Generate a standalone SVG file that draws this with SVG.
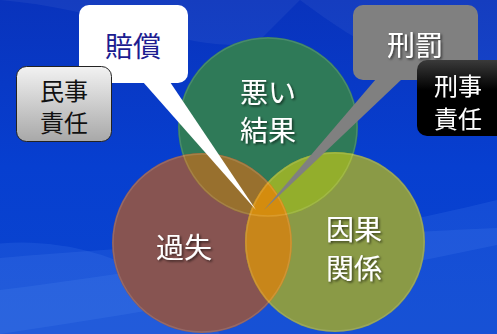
<svg xmlns="http://www.w3.org/2000/svg" width="497" height="334" viewBox="0 0 497 334">
<defs>
<linearGradient id="bg" x1="0" y1="0" x2="0" y2="1">
<stop offset="0" stop-color="#0933bc"/>
<stop offset="0.5" stop-color="#073fd0"/>
<stop offset="1" stop-color="#0b46cf"/>
</linearGradient>
<linearGradient id="gbox" x1="0" y1="0" x2="0" y2="1">
<stop offset="0" stop-color="#f2f2f2"/>
<stop offset="1" stop-color="#a8a8a8"/>
</linearGradient>
<linearGradient id="bbox" x1="0" y1="0" x2="0" y2="1">
<stop offset="0" stop-color="#3a3a3a"/>
<stop offset="0.4" stop-color="#000"/>
<stop offset="1" stop-color="#000"/>
</linearGradient>
<clipPath id="cG"><circle cx="268" cy="127" r="90"/></clipPath>
<clipPath id="cR"><circle cx="202" cy="243" r="90"/></clipPath>
<clipPath id="cO"><circle cx="335" cy="242" r="90"/></clipPath>
<filter id="sh" x="-20%" y="-20%" width="140%" height="140%">
<feDropShadow dx="1.5" dy="1.5" stdDeviation="1" flood-color="#000" flood-opacity="0.6"/>
</filter>
</defs>
<style>
.t{font-family:"Noto Sans CJK JP","Noto Sans CJK SC",sans-serif;text-anchor:middle;dominant-baseline:central}
.w{fill:#fff;filter:url(#sh)}
.big{font-size:28px}
.box{font-size:24px}
.band{fill:#6aa0ff;opacity:0.13}
.rim{fill:none;stroke:#fff;stroke-opacity:0.12;stroke-width:1.5}
</style>
<rect width="497" height="334" fill="url(#bg)"/>
<g id="background-streaks">
<path class="band" d="M0,258 C150,245 350,235 497,228 L497,334 L0,334 Z"/>
<path class="band" d="M0,290 C160,270 330,240 497,200 L497,245 C330,280 160,310 0,334 Z"/>
<path class="band" d="M-40,250 A260,260 0 0 1 220,334 L0,334 Z"/>
<path d="M0,0 C120,10 200,60 260,40 L300,0 Z" fill="#ffffff" opacity="0.05"/>
<path d="M300,0 C380,60 430,80 497,70 L497,0 Z" fill="#ffffff" opacity="0.05"/>
</g>
<g id="circle-bad-result">
<circle cx="268" cy="127" r="90" fill="#2f7a58"/>
</g>
<g id="circle-negligence">
<circle cx="202" cy="243" r="90" fill="#875451"/>
</g>
<g id="circle-causation">
<circle cx="335" cy="242" r="90" fill="#8a9a46"/>
</g>
<g id="overlaps">
<g clip-path="url(#cG)"><circle cx="202" cy="243" r="90" fill="#98702e"/></g>
<g clip-path="url(#cG)"><circle cx="335" cy="242" r="90" fill="#93ae2c"/></g>
<g clip-path="url(#cR)"><circle cx="335" cy="242" r="90" fill="#c8861a"/></g>
<g clip-path="url(#cR)"><g clip-path="url(#cG)"><circle cx="335" cy="242" r="90" fill="#d48c0e"/></g></g>
<circle class="rim" cx="268" cy="127" r="89"/>
<circle class="rim" cx="202" cy="243" r="89"/>
<circle class="rim" cx="335" cy="242" r="89"/>
</g>
<g id="connectors">
<path d="M143,82 L170,82 L256,210 Z" fill="#ffffff"/>
<path d="M376,79 L402,79 L264,210 Z" fill="#808080"/>
</g>
<g id="label-bad-result">
<text class="t w big" x="268" y="91">悪い</text>
<text class="t w big" x="268" y="129">結果</text>
</g>
<g id="label-negligence">
<text class="t w big" x="184" y="246">過失</text>
</g>
<g id="label-causation">
<text class="t w big" x="354" y="228">因果</text>
<text class="t w big" x="354" y="267">関係</text>
</g>
<g id="callout-compensation">
<rect x="79" y="5" width="109" height="78" rx="10" fill="#ffffff"/>
<text class="t big" x="133" y="45" fill="#1c1c90">賠償</text>
</g>
<g id="callout-punishment">
<rect x="353" y="5" width="125" height="75" rx="10" fill="#808080"/>
<text class="t w big" x="415" y="44">刑罰</text>
</g>
<g id="box-civil">
<rect x="16.5" y="66.5" width="95" height="75" rx="10" fill="url(#gbox)" stroke="#222" stroke-width="1"/>
<text class="t box" x="64" y="89" fill="#111">民事</text>
<text class="t box" x="64" y="121" fill="#111">責任</text>
</g>
<g id="box-criminal">
<rect x="417" y="60" width="100" height="76" rx="10" fill="url(#bbox)"/>
<text class="t w box" x="458" y="84">刑事</text>
<text class="t w box" x="458" y="117">責任</text>
</g>
</svg>
